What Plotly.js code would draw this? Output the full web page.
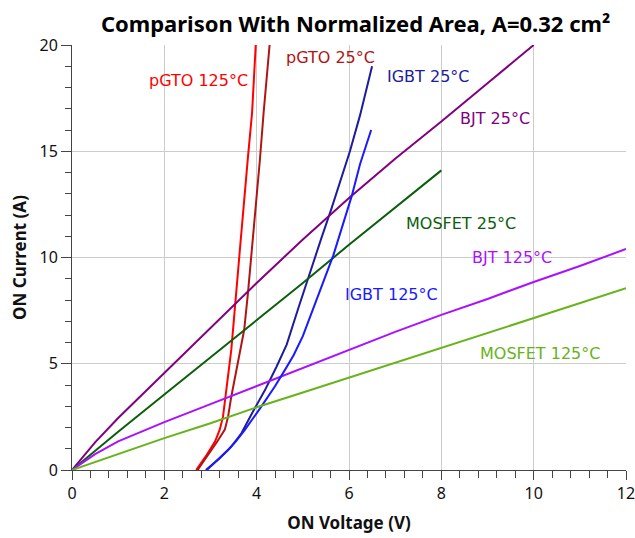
<!DOCTYPE html>
<html>
<head>
<meta charset="utf-8">
<script src="https://cdn.plot.ly/plotly-3.0.1.min.js"></script>
<style>html,body{margin:0;padding:0;background:#fff;}#chart{width:635px;height:538px;}</style>
</head>
<body>
<div id="chart"></div>
<script>
// ON voltage (V) / ON current (A) for each device
const pgto125_v = [2.69, 2.9, 3.1, 3.2, 3.27, 3.34, 3.45, 3.5, 3.53, 3.63, 3.81, 3.9, 3.98];
const pgto125_i = [0, 0.65, 1.35, 1.9, 2.5, 3.76, 5.65, 6.9, 7.7, 10.2, 14.7, 16.8, 20];

const pgto25_v = [2.72, 2.95, 3.15, 3.31, 3.38, 3.45, 3.56, 3.67, 3.73, 3.81, 4.0, 4.07, 4.15, 4.22, 4.28];
const pgto25_i = [0, 0.7, 1.35, 1.9, 2.5, 3.45, 4.7, 5.96, 6.6, 8.3, 12.7, 14.6, 16.8, 18.5, 20];

const igbt25_v = [2.9, 3.2, 3.45, 3.67, 3.92, 4.18, 4.43, 4.65, 4.9, 5.15, 5.4, 5.62, 5.85, 6.02, 6.24, 6.5];
const igbt25_i = [0, 0.55, 1.1, 1.73, 2.75, 3.76, 4.86, 5.9, 7.6, 9.3, 10.9, 12.3, 13.8, 15.0, 16.7, 19.0];

const igbt125_v = [2.92, 3.1, 3.38, 3.55, 3.74, 4.1, 4.39, 4.61, 4.8, 5.0, 5.3, 5.66, 6.06, 6.24, 6.48];
const igbt125_i = [0, 0.35, 0.94, 1.35, 1.88, 2.98, 3.92, 4.7, 5.4, 6.3, 8.0, 10.1, 12.9, 14.4, 16.0];

const bjt25_v = [0, 0.5, 1, 2, 3, 4, 5, 6, 7, 8, 9, 10];
const bjt25_i = [0, 1.3, 2.45, 4.55, 6.7, 8.8, 10.85, 12.8, 14.65, 16.4, 18.2, 20];

const mos25_v = [0, 1, 2, 3, 4, 5, 6, 7, 8];
const mos25_i = [0, 1.8, 3.55, 5.3, 7.05, 8.8, 10.6, 12.35, 14.1];

const bjt125_v = [0, 0.5, 1, 2, 3, 4, 5, 6, 7, 8, 9, 10, 11, 12];
const bjt125_i = [0, 0.75, 1.35, 2.25, 3.1, 3.95, 4.8, 5.65, 6.5, 7.3, 8.05, 8.85, 9.6, 10.4];

const mos125_v = [0, 1, 2, 3, 4, 5, 6, 7, 8, 9, 10, 11, 12];
const mos125_i = [0, 0.75, 1.5, 2.2, 2.95, 3.65, 4.35, 5.05, 5.75, 6.45, 7.15, 7.85, 8.55];

const labels = ["pGTO 125°C", "pGTO 25°C", "IGBT 25°C", "BJT 25°C", "MOSFET 25°C", "BJT 125°C", "IGBT 125°C", "MOSFET 125°C"];
const label_v = [2.74, 5.59, 7.71, 9.16, 8.43, 9.53, 6.91, 10.14];
const label_i = [18.33, 19.39, 18.5, 16.56, 11.62, 10.02, 8.24, 5.5];
const colors = ["#ff0000", "#b01414", "#1c1c9c", "#800080", "#0b5e0b", "#aa11ff", "#1a1aff", "#66b31a"];

const series = [
  [pgto125_v, pgto125_i, 0],
  [pgto25_v, pgto25_i, 1],
  [igbt25_v, igbt25_i, 2],
  [bjt25_v, bjt25_i, 3],
  [mos25_v, mos25_i, 4],
  [bjt125_v, bjt125_i, 5],
  [igbt125_v, igbt125_i, 6],
  [mos125_v, mos125_i, 7]
];

const traces = series.map(s => ({
  x: s[0], y: s[1], type: 'scatter', mode: 'lines',
  line: {color: colors[s[2]], width: 2}
}));

const annotations = labels.map((t, k) => ({
  x: label_v[k], y: label_i[k], xref: 'x', yref: 'y', text: t, showarrow: false,
  font: {family: 'DejaVu Sans', size: 16, color: colors[k]}
}));

const fam = 'Noto Sans, DejaVu Sans, sans-serif';
const layout = {
  width: 635, height: 538,
  margin: {l: 72, r: 9, t: 45, b: 68},
  showlegend: false,
  font: {family: fam, size: 16, color: '#111'},
  title: {text: '<b>Comparison With Normalized Area, A=0.32 cm²</b>', font: {size: 22, color: '#000'}, x: 0.56, y: 0.97},
  xaxis: {
    range: [0, 12], dtick: 2, ticks: 'outside', ticklen: 9, tickwidth: 1, tickcolor: '#444',
    showline: true, linecolor: '#444', linewidth: 1, gridcolor: '#cccccc', zeroline: false, layer: 'above traces',
    tickfont: {family: fam, size: 16}, ticklabeloverflow: 'allow',
    minor: {dtick: 0.4, ticks: 'outside', ticklen: 7, tickwidth: 1, tickcolor: '#444'},
    title: {text: '<b>ON Voltage (V)</b>', font: {size: 17}, standoff: 13}
  },
  yaxis: {
    range: [0, 20], dtick: 5, ticks: 'outside', ticklen: 10, tickwidth: 1, tickcolor: '#444',
    showline: true, linecolor: '#444', linewidth: 1, gridcolor: '#cccccc', zeroline: false, layer: 'above traces',
    tickfont: {family: fam, size: 16},
    minor: {dtick: 1, ticks: 'outside', ticklen: 6, tickwidth: 1, tickcolor: '#444'},
    title: {text: '<b>ON Current (A)</b>', font: {size: 17}, standoff: 8}
  },
  annotations: annotations
};

Plotly.newPlot('chart', traces, layout, {displayModeBar: false});
</script>
</body>
</html>
